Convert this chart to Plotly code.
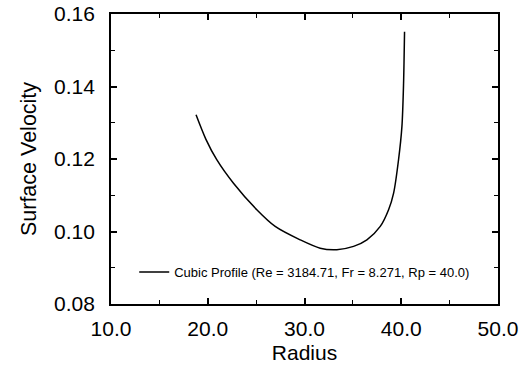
import plotly.graph_objects as go

radius = [18.79, 19.8, 20.93, 22.66, 25.07, 26.97, 29.55, 31.62, 33.34, 35.07,
          36.45, 37.83, 38.69, 39.21, 39.72, 40.07, 40.24, 40.34]
velocity = [0.1322, 0.1255, 0.1198, 0.1133, 0.1060, 0.1014, 0.0977, 0.0954, 0.0950, 0.0959,
            0.0977, 0.1014, 0.1060, 0.1106, 0.1198, 0.1290, 0.1409, 0.1551]
series_name = "Cubic Profile (Re = 3184.71, Fr = 8.271, Rp = 40.0)"
x_ticks = [10, 20, 30, 40, 50]
x_labels = ["10.0", "20.0", "30.0", "40.0", "50.0"]
y_ticks = [0.08, 0.10, 0.12, 0.14, 0.16]
y_labels = ["0.08", "0.10", "0.12", "0.14", "0.16"]

fig = go.Figure()
fig.add_trace(go.Scatter(x=radius, y=velocity, mode="lines", name=series_name,
                         line=dict(color="black", width=1.5, shape="spline", smoothing=0.8)))

font = "Liberation Sans, Arial, sans-serif"
axis_common = dict(showgrid=False, zeroline=False, showline=True, linecolor="black", linewidth=1.8,
                   mirror="allticks", ticks="inside", ticklen=6, tickwidth=1.5, tickcolor="black",
                   automargin=False,
                   tickfont=dict(family=font, size=21, color="black"),
                   minor=dict(ticks="inside", ticklen=4, tickwidth=1.2, tickcolor="black"))

fig.update_xaxes(range=[10, 50], tickvals=x_ticks, ticktext=x_labels,
                 title=dict(text="Radius", font=dict(family=font, size=21, color="black"), standoff=6),
                 ticklabelstandoff=5, minor_dtick=5, **axis_common)
fig.update_yaxes(range=[0.08, 0.16], tickvals=y_ticks, ticktext=y_labels,
                 title=dict(text="Surface Velocity", font=dict(family=font, size=21.5, color="black"), standoff=12),
                 ticklabelstandoff=10, minor_dtick=0.01, **axis_common)

fig.update_layout(width=525, height=366, margin=dict(l=111, r=27, t=14, b=62),
                  paper_bgcolor="white", plot_bgcolor="white",
                  showlegend=True,
                  legend=dict(x=0.06, y=0.11, xanchor="left", yanchor="middle",
                              bgcolor="rgba(0,0,0,0)",
                              font=dict(family=font, size=13, color="black"),
                              itemwidth=30))

fig.write_html("out.html")
